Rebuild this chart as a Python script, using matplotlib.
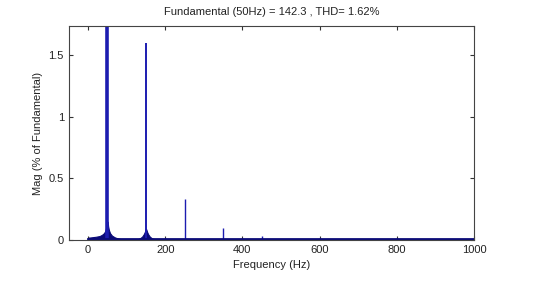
import numpy as np
import matplotlib.pyplot as plt

plt.rcParams['font.family'] = ['Liberation Sans', 'DejaVu Sans']

# harmonic spikes (% of fundamental)
harm_f = [50, 150, 200, 250, 350, 400, 450, 600, 750, 800]
harm_m = [100, 1.6, 0.02, 0.33, 0.1, 0.02, 0.03, 0.02, 0.01, 0.02]
harm_w = [2.6, 1.4, 1.0, 1.0, 1.0, 1.0, 1.0, 1.0, 1.0, 1.0]

# leakage skirt around 50 Hz
skirt1_f = [0, 5, 10, 20, 30, 36, 41, 44, 46, 48, 49, 50, 51, 52, 54, 57, 62, 70, 80, 90]
skirt1_m = [0.02, 0.02, 0.022, 0.026, 0.032, 0.042, 0.055, 0.07, 0.09, 0.12, 0.14, 0.15,
            0.14, 0.11, 0.08, 0.055, 0.035, 0.02, 0.01, 0.005]

# leakage skirt around 150 Hz
skirt2_f = [128, 135, 140, 144, 147, 149, 150, 151, 153, 156, 160, 166, 175]
skirt2_m = [0.005, 0.015, 0.027, 0.045, 0.065, 0.085, 0.09, 0.085, 0.065, 0.045, 0.027, 0.012, 0.005]

col = '#1c1cb0'
dark = '#0a0a78'

fig = plt.figure(figsize=(5.46, 2.85), dpi=100)
ax = fig.add_axes([0.126, 0.158, 0.742, 0.751])

ax.fill_between(skirt1_f, 0, skirt1_m, color=dark, lw=0.8, edgecolor=dark)
ax.fill_between(skirt2_f, 0, skirt2_m, color=dark, lw=0.8, edgecolor=dark)
for f, m, w in zip(harm_f, harm_m, harm_w):
    ax.vlines(f, 0, m, color=col, lw=w)
ax.axhline(0.004, xmin=(0 + 50) / 1050, xmax=1, color=dark, lw=2)

ax.set_xlim(-50, 1000)
ax.set_ylim(0, 1.74)
ax.set_xticks([0, 200, 400, 600, 800, 1000])
ax.set_yticks([0, 0.5, 1, 1.5])
ax.set_yticklabels(['0', '0.5', '1', '1.5'])
ax.tick_params(direction='in', top=True, right=True, labelsize=8, length=3,
               colors='#333333', labelcolor='#222222')
for s in ax.spines.values():
    s.set_color('#444444')
    s.set_linewidth(0.8)

ax.set_xlabel('Frequency (Hz)', fontsize=8, color='#222222')
ax.set_ylabel('Mag (% of Fundamental)', fontsize=8, color='#222222')
ax.set_title('Fundamental (50Hz) = 142.3 , THD= 1.62%', fontsize=8, color='#222222', pad=8)

fig.savefig('out.png', dpi=100)
